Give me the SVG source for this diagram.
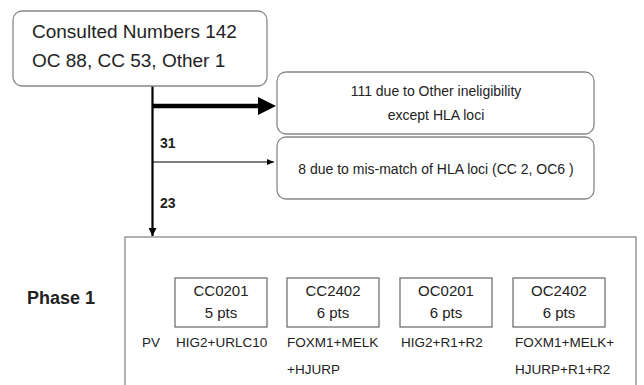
<svg xmlns="http://www.w3.org/2000/svg" width="644" height="385" viewBox="0 0 644 385">
<defs>
<style>
text{font-family:"Liberation Sans",Arial,sans-serif;fill:#222}
.rb{fill:#fff;stroke:#888;stroke-width:1.3}
.sb{fill:#fff;stroke:#666;stroke-width:1.2}
.t14{font-size:14px}
.t15{font-size:15px}
.t135{font-size:13.5px}
.c{text-anchor:middle}
.ln{stroke:#000;fill:none}
</style>
<marker id="ah" markerWidth="8" markerHeight="8" refX="8" refY="4" orient="auto" markerUnits="userSpaceOnUse"><path d="M0,0 L8,4 L0,8 Z" fill="#000"/></marker>
<marker id="ahs" markerWidth="7" markerHeight="6" refX="7" refY="3" orient="auto" markerUnits="userSpaceOnUse"><path d="M0,0 L7,3 L0,6 Z" fill="#000"/></marker>
</defs>
<rect width="644" height="385" fill="#fff"/>
<g id="phase1-frame">
<rect x="125" y="237" width="511" height="160" fill="#fff" stroke="#888" stroke-width="1.3"/>
</g>
<g id="connectors">
<line class="ln" x1="152.5" y1="86" x2="152.5" y2="236" stroke-width="2.2" marker-end="url(#ah)"/>
<line class="ln" x1="152.5" y1="106" x2="260" y2="106" stroke-width="4.5"/>
<path d="M258,97 L276,106 L258,115 Z" fill="#000"/>
<line class="ln" x1="152.5" y1="162" x2="274" y2="162" stroke-width="1.2" marker-end="url(#ahs)"/>
<text x="160" y="148" style="font-size:14px;font-weight:bold">31</text>
<text x="160" y="208" style="font-size:14px;font-weight:bold">23</text>
</g>
<g id="consulted">
<rect class="rb" x="13" y="11" width="254" height="75" rx="9"/>
<text x="32" y="38" style="font-size:19px">Consulted Numbers 142</text>
<text x="32" y="67" style="font-size:19px">OC 88, CC 53, Other 1</text>
</g>
<g id="excl-other">
<rect class="rb" x="277" y="72" width="317" height="62" rx="9"/>
<text class="t14 c" x="436" y="96">111 due to Other ineligibility</text>
<text class="t14 c" x="436" y="120">except HLA loci</text>
</g>
<g id="excl-hla">
<rect class="rb" x="277" y="137" width="317" height="62" rx="9"/>
<text class="t14 c" x="436" y="174">8 due to mis-match of HLA loci (CC 2, OC6 )</text>
</g>
<g id="phase1-label">
<text x="27" y="304" style="font-size:18px;font-weight:bold">Phase 1</text>
<text class="t135" x="142" y="347">PV</text>
</g>
<g id="cc0201">
<rect class="sb" x="175" y="278" width="92" height="49"/>
<text class="t15 c" x="221" y="296">CC0201</text>
<text class="t15 c" x="221" y="318">5 pts</text>
<text class="t135" x="176" y="347">HIG2+URLC10</text>
</g>
<g id="cc2402">
<rect class="sb" x="287" y="278" width="92" height="49"/>
<text class="t15 c" x="333" y="296">CC2402</text>
<text class="t15 c" x="333" y="318">6 pts</text>
<text class="t135" x="287" y="347">FOXM1+MELK</text>
<text class="t135" x="287" y="374">+HJURP</text>
</g>
<g id="oc0201">
<rect class="sb" x="400" y="278" width="92" height="49"/>
<text class="t15 c" x="446" y="296">OC0201</text>
<text class="t15 c" x="446" y="318">6 pts</text>
<text class="t135" x="401" y="347">HIG2+R1+R2</text>
</g>
<g id="oc2402">
<rect class="sb" x="513" y="278" width="92" height="49"/>
<text class="t15 c" x="559" y="296">OC2402</text>
<text class="t15 c" x="559" y="318">6  pts</text>
<text class="t135" x="515" y="347">FOXM1+MELK+</text>
<text class="t135" x="515" y="374">HJURP+R1+R2</text>
</g>
</svg>
